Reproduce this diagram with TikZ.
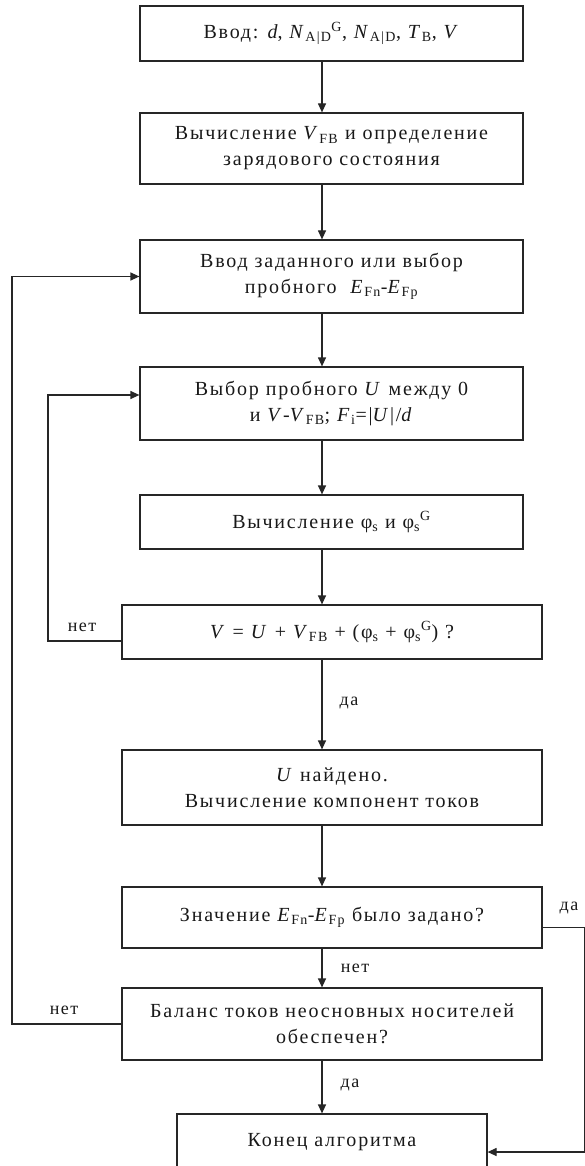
\documentclass[tikz,border=0pt]{standalone}
\usepackage{fontspec}
\usetikzlibrary{arrows.meta}
\newfontfamily\mainf{Liberation Serif}[LetterSpace=9]
\newfontfamily\labf{Liberation Serif}[LetterSpace=8]
\tikzset{
  box/.style={draw=black!85, line width=1.2pt, align=center, inner sep=0pt,
    font=\mainf\fontsize{20}{26}\selectfont, text=black!90},
  conn/.style={draw=black!85, line width=1.2pt},
  arr/.style={conn, -{Triangle[length=9pt,width=8pt]}},
  lbl/.style={font=\labf\fontsize{18}{20}\selectfont, text=black!90, inner sep=0pt}
}
\begin{document}
\begin{tikzpicture}[x=1pt,y=-1pt]
\fill[white] (0,0) rectangle (585,1166);
\useasboundingbox (0,0) rectangle (585,1166);
\clip (0,0) rectangle (585,1166);
\coordinate (ax) at (322,0);
\node[box, minimum width=383pt, minimum height=55pt] (b1) at (331.5,33.5)
  {Ввод: \textit{d}, \textit{N}\textsubscript{A|D}\textsuperscript{G}, \textit{N}\textsubscript{A|D}, \textit{T}\textsubscript{B}, \textit{V}};
\node[box, minimum width=383pt, minimum height=71pt] (b2) at (331.5,148.5)
  {Вычисление \textit{V}\textsubscript{FB} и определение\\зарядового состояния};
\node[box, minimum width=383pt, minimum height=73pt] (b3) at (331.5,276.5)
  {Ввод заданного или выбор\\пробного~ \textit{E}\textsubscript{Fn}-\textit{E}\textsubscript{Fp}};
\node[box, minimum width=383pt, minimum height=73pt] (b4) at (331.5,403.5)
  {Выбор пробного \textit{U} между 0\\и \textit{V}-\textit{V}\textsubscript{FB}; \textit{F}\textsubscript{i}=|\textit{U}|/\textit{d}};
\node[box, minimum width=383pt, minimum height=54pt] (b5) at (331.5,522)
  {Вычисление φ\textsubscript{s} и φ\textsubscript{s}\textsuperscript{G}};
\node[box, minimum width=420pt, minimum height=54pt] (b6) at (332,632)
  {\textit{V} = \textit{U} + \textit{V}\textsubscript{FB} + (φ\textsubscript{s} + φ\textsubscript{s}\textsuperscript{G}) ?};
\node[box, minimum width=420pt, minimum height=75pt] (b7) at (332,787.5)
  {\textit{U} найдено.\\Вычисление компонент токов};
\node[box, minimum width=420pt, minimum height=61pt] (b8) at (332,917.5)
  {Значение \textit{E}\textsubscript{Fn}-\textit{E}\textsubscript{Fp} было задано?};
\node[box, minimum width=420pt, minimum height=72pt] (b9) at (332,1024)
  {Баланс токов неосновных носителей\\обеспечен?};
\node[box, minimum width=310pt, minimum height=56pt] (b10) at (332,1142)
  {Конец алгоритма};
% main flow
\draw[arr] (b1.south -| ax) -- (b2.north -| ax);
\draw[arr] (b2.south -| ax) -- (b3.north -| ax);
\draw[arr] (b3.south -| ax) -- (b4.north -| ax);
\draw[arr] (b4.south -| ax) -- (b5.north -| ax);
\draw[arr] (b5.south -| ax) -- (b6.north -| ax);
\draw[arr] (b6.south -| ax) -- (b7.north -| ax);
\draw[arr] (b7.south -| ax) -- (b8.north -| ax);
\draw[arr] (b8.south -| ax) -- (b9.north -| ax);
\draw[arr] (b9.south -| ax) -- (b10.north -| ax);
% loops
\coordinate (il) at (48,500);
\coordinate (ol) at (12,650);
\coordinate (rl) at (585,1000);
\draw[arr] ([yshift=-9pt]b6.west) -| (il) |- ([yshift=8.5pt]b4.west);
\draw[arr] (b9.west) -| (ol) |- (b3.west);
\draw[arr] ([yshift=-10pt]b8.east) -| (rl) |- ([yshift=-10pt]b10.east);
% labels
\node[lbl] (n1) at (82,627) {нет};
\node[lbl] (n2) at (64,1010) {нет};
\node[lbl] (y1) at (349,703) {да};
\node[lbl] (n3) at (355,968) {нет};
\node[lbl] (y2) at (350,1085) {да};
\node[lbl] (y3) at (569,908) {да};
\end{tikzpicture}
\end{document}
